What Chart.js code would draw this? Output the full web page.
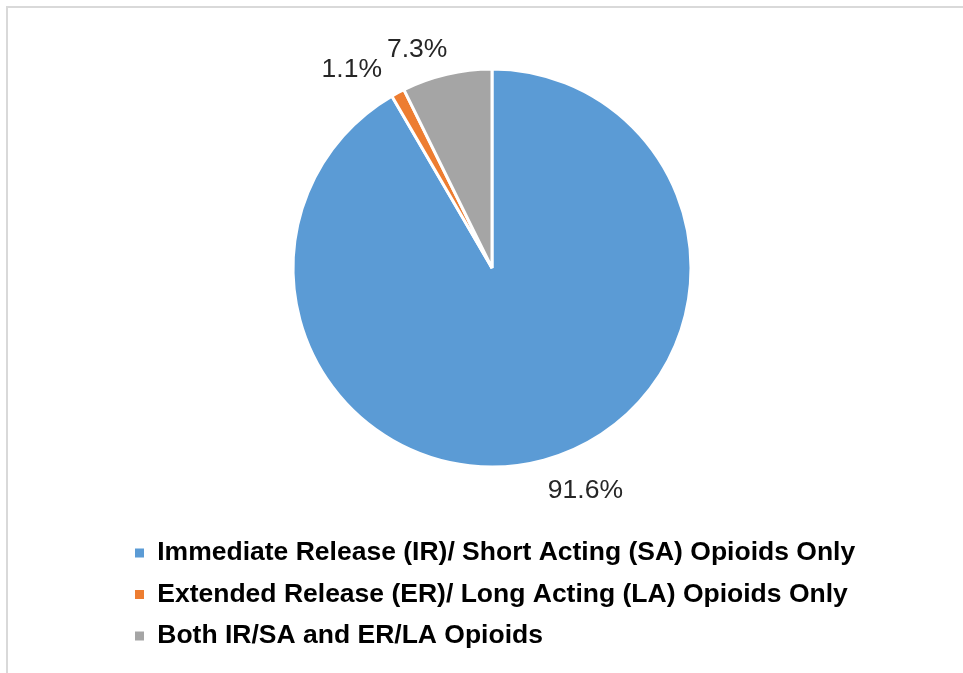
<!DOCTYPE html>
<html>
<head>
<meta charset="utf-8">
<script src="https://cdn.jsdelivr.net/npm/chart.js@4.4.1/dist/chart.umd.min.js"></script>
<style>
  html, body { margin: 0; padding: 0; background: #fff; }
  #frame {
    position: absolute; left: 6px; top: 6px; width: 957px; height: 667px;
    border-top: 2px solid #d9d9d9; border-left: 2px solid #d9d9d9;
  }
  #wrap { position: absolute; left: 0; top: 0; width: 963px; height: 673px; }
</style>
</head>
<body>
<div id="frame"></div>
<div id="wrap"><canvas id="pieChart"></canvas></div>
<script>
/* data */
const categories = [
  'Immediate Release (IR)/ Short Acting (SA) Opioids Only',
  'Extended Release (ER)/ Long Acting (LA) Opioids Only',
  'Both IR/SA and ER/LA Opioids'
];
const shares = [91.6, 1.1, 7.3];
const sliceColors = ['#5b9bd5', '#ed7d31', '#a5a5a5'];

const FONT = "'Liberation Sans', Arial, sans-serif";

/* outside-end labels along each slice's mid angle; a label that
   runs into the next one is pushed sideways, like Excel does */
const outsideLabels = {
  id: 'outsideLabels',
  afterDatasetsDraw(chart) {
    const ctx = chart.ctx;
    const meta = chart.getDatasetMeta(0);
    ctx.save();
    ctx.font = '26.5px ' + FONT;
    ctx.fillStyle = '#262626';
    ctx.textAlign = 'left';
    ctx.textBaseline = 'alphabetic';

    const boxes = meta.data.map((arc, i) => {
      const p = arc.getProps(['x', 'y', 'startAngle', 'endAngle', 'outerRadius'], true);
      const mid = (p.startAngle + p.endAngle) / 2;
      const dist = p.outerRadius + 15;
      const cx = Math.cos(mid), cy = Math.sin(mid);
      const text = shares[i].toFixed(1) + '%';
      const w = ctx.measureText(text).width;
      const h = 19;                       // digit height at this size
      const ax = p.x + dist * cx, ay = p.y + dist * cy;
      const left = cx >= 0 ? ax : ax - w + 4;
      const top = cy >= 0 ? ay + 4 : ay - h - 3;
      return { text, left, top, w, h, side: cx >= 0 ? 1 : -1 };
    });

    for (let i = boxes.length - 1; i > 0; i--) {
      const a = boxes[i - 1], b = boxes[i];
      const overlapY = a.top < b.top + b.h + 4 && b.top < a.top + a.h + 4;
      if (overlapY && a.side < 0 && a.left + a.w > b.left - 5) {
        a.left = b.left - 5 - a.w;
      }
    }

    boxes.forEach(b => ctx.fillText(b.text, b.left, b.top + b.h));
    ctx.restore();
  }
};

new Chart(document.getElementById('pieChart'), {
  type: 'pie',
  data: {
    labels: categories,
    datasets: [{
      data: shares,
      backgroundColor: sliceColors,
      borderColor: '#ffffff',
      borderWidth: 3
    }]
  },
  options: {
    responsive: true,
    maintainAspectRatio: false,
    animation: false,
    radius: 199,
    layout: { padding: { left: 120, right: 99, top: 11.25, bottom: 13.75 } },
    plugins: {
      tooltip: { enabled: false },
      legend: {
        position: 'bottom',
        align: 'start',
        labels: {
          boxWidth: 9,
          boxHeight: 9,
          padding: 15,
          color: '#000',
          font: { family: FONT, size: 26.5, weight: 'bold' },
          generateLabels(chart) {
            return chart.data.labels.map((text, i) => ({
              text,
              fillStyle: sliceColors[i],
              strokeStyle: sliceColors[i],
              lineWidth: 0,
              index: i
            }));
          }
        }
      }
    }
  },
  plugins: [outsideLabels]
});
</script>
</body>
</html>
